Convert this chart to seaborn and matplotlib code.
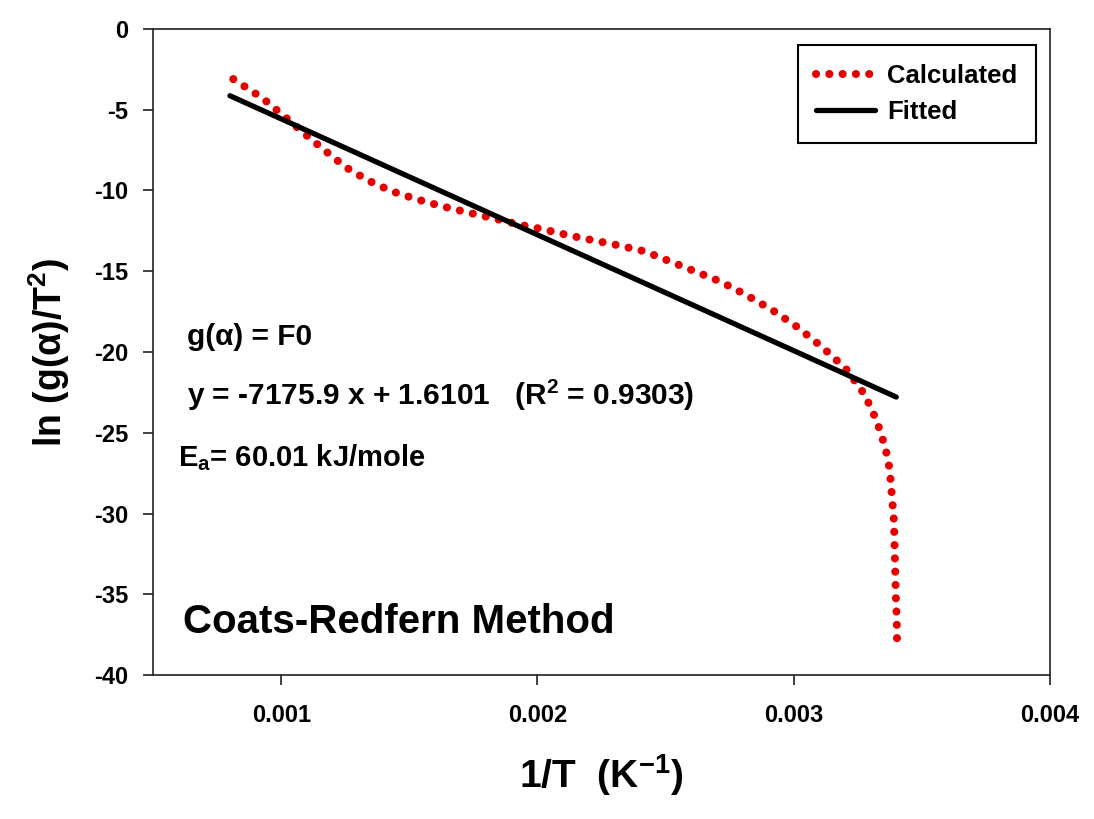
import numpy as np
import pandas as pd
import matplotlib
matplotlib.use("Agg")
import matplotlib.pyplot as plt
import seaborn as sns

# Coats-Redfern plot: ln(g(alpha)/T^2) against 1/T
inv_T_calc = [0.000813, 0.000927, 0.001025, 0.001103, 0.001174, 0.001252,
              0.001338, 0.001432, 0.001530, 0.001628, 0.001726, 0.001828,
              0.001926, 0.002024, 0.002122, 0.002220, 0.002317, 0.002419,
              0.002517, 0.002615, 0.002713, 0.002811, 0.002913, 0.003011,
              0.003109, 0.003203, 0.003277, 0.003324, 0.003355, 0.003367,
              0.003375, 0.003383, 0.003391, 0.003395, 0.003399, 0.003402,
              0.003403]
ln_g_calc = [-3.10, -4.28, -5.58, -6.64, -7.57, -8.56,
             -9.37, -10.05, -10.55, -10.98, -11.35, -11.72,
             -12.10, -12.41, -12.78, -13.09, -13.40, -13.77,
             -14.39, -15.01, -15.63, -16.44, -17.37, -18.42,
             -19.67, -21.03, -22.64, -24.26, -25.81, -26.60,
             -27.36, -28.91, -30.46, -32.94, -35.42, -36.50,
             -38.00]

# Linear fit reported on the chart
slope = -7175.9
intercept = 1.6101
r_squared = 0.9303
fit_x = [0.0008, 0.0034]
fit_y = [slope * x + intercept for x in fit_x]

x_ticks = [0.001, 0.002, 0.003, 0.004]
y_ticks = [0, -5, -10, -15, -20, -25, -30, -35, -40]

sns.set_style("ticks")
plt.rcParams["font.family"] = ["Liberation Sans", "DejaVu Sans"]
plt.rcParams["font.weight"] = "bold"
plt.rcParams["text.color"] = "black"
plt.rcParams["axes.labelcolor"] = "black"
plt.rcParams["xtick.color"] = "black"
plt.rcParams["ytick.color"] = "black"
plt.rcParams["axes.unicode_minus"] = False
plt.rcParams["mathtext.fontset"] = "custom"
plt.rcParams["mathtext.rm"] = "Liberation Sans:bold"
plt.rcParams["mathtext.it"] = "Liberation Sans:bold"
plt.rcParams["mathtext.bf"] = "Liberation Sans:bold"
plt.rcParams["mathtext.default"] = "rm"

calc = pd.DataFrame({"x": inv_T_calc, "y": ln_g_calc})
fit = pd.DataFrame({"x": fit_x, "y": fit_y})

fig = plt.figure(figsize=(10.94, 8.19), dpi=100)
ax = fig.add_axes([0.1399, 0.1758, 0.8199, 0.7888])

sns.lineplot(data=calc, x="x", y="y", ax=ax, sort=False, estimator=None,
             color="#e60000", linewidth=5.8, linestyle=(0, (0.01, 1.64)),
             dash_capstyle="round", label="Calculated")
sns.lineplot(data=fit, x="x", y="y", ax=ax, sort=False, estimator=None,
             color="black", linewidth=3.8, solid_capstyle="round",
             label="Fitted")

ax.set_xlim(0.0005, 0.004)
ax.set_ylim(-40, 0)
ax.set_xticks(x_ticks)
ax.set_xticklabels([f"{t:.3f}" for t in x_ticks])
ax.set_yticks(y_ticks)
ax.set_yticklabels([str(t) for t in y_ticks])
ax.tick_params(axis="both", labelsize=17, length=7, width=1.2,
               direction="out", color="#222222", labelcolor="black")
ax.tick_params(axis="x", pad=14)
ax.tick_params(axis="y", pad=11)
for lab in ax.get_xticklabels() + ax.get_yticklabels():
    lab.set_fontweight("bold")
for sp in ax.spines.values():
    sp.set_visible(True)
    sp.set_linewidth(1.2)
    sp.set_color("#222222")

ax.set_xlabel(r"1/T  (K$^{-1}$)", fontsize=28, fontweight="bold", labelpad=18)
ax.set_ylabel(r"ln (g(α)/T$^{2}$)", fontsize=27, fontweight="bold", labelpad=16)

ax.text(0.038, 0.523, "g(α) = F0", transform=ax.transAxes, fontsize=21.5,
        fontweight="bold", va="center", ha="left")
ax.text(0.038, 0.433,
        f"y = {slope} x + {intercept}   (R$^{{2}}$ = {r_squared})",
        transform=ax.transAxes, fontsize=21.5, fontweight="bold",
        va="center", ha="left")
ax.text(0.028, 0.336, r"E$_{\mathrm{a}}$= 60.01 kJ/mole",
        transform=ax.transAxes, fontsize=21, fontweight="bold",
        va="center", ha="left")
ax.text(0.033, 0.082, "Coats-Redfern Method", transform=ax.transAxes,
        fontsize=29, fontweight="bold", va="center", ha="left")

leg = ax.legend(loc="upper right", bbox_to_anchor=(0.984, 0.975),
                borderaxespad=0, fontsize=18.5, frameon=True, fancybox=False,
                framealpha=1, edgecolor="black", handlelength=2.3,
                borderpad=0.72, labelspacing=0.5, handletextpad=0.45)
leg.get_frame().set_linewidth(1.5)
for t in leg.get_texts():
    t.set_fontweight("bold")

fig.savefig("out.png", dpi=100, facecolor="white")
